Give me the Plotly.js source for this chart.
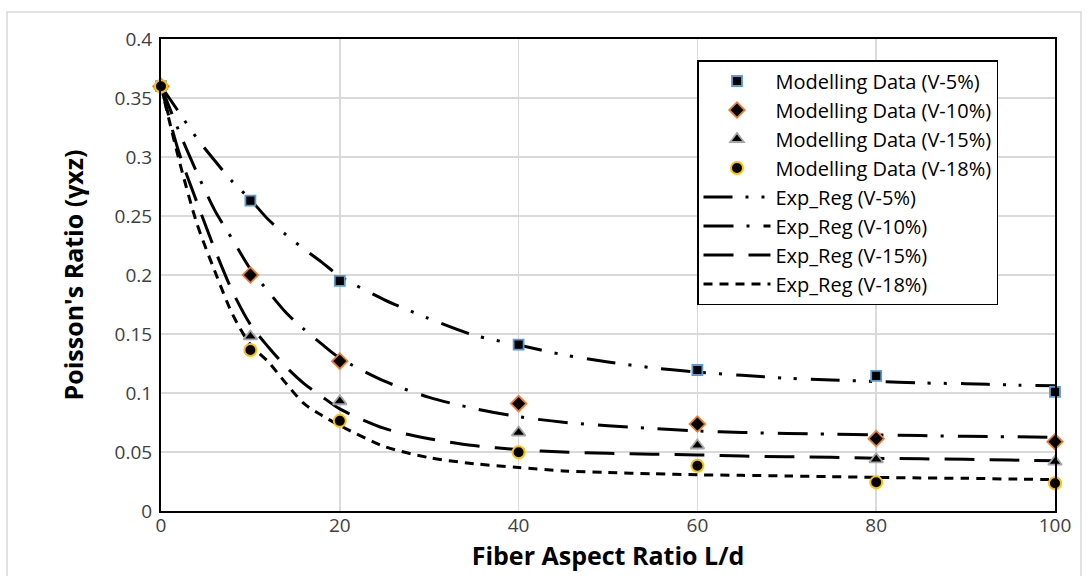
<!DOCTYPE html>
<html>
<head>
<meta charset="utf-8">
<script src="https://cdn.plot.ly/plotly-3.0.1.min.js"></script>
<style>
  html, body { margin: 0; padding: 0; background: #ffffff; }
  #chart { width: 1088px; height: 576px; }
</style>
</head>
<body>
<div id="chart"></div>
<script>
// ---- data ----
const aspectRatio = [0, 10, 20, 40, 60, 80, 100];
const model5  = [0.36, 0.263, 0.195, 0.141, 0.1195, 0.1145, 0.101];
const model10 = [0.36, 0.200, 0.127, 0.091, 0.0737, 0.0613, 0.0587];
const model15 = [0.36, 0.148, 0.093, 0.0665, 0.0555, 0.0438, 0.0418];
const model18 = [0.36, 0.1364, 0.0764, 0.0498, 0.0384, 0.0243, 0.0235];

const fitX   = [0, 2, 4, 6, 8, 10, 12, 14, 16, 18, 20, 25, 30, 35, 40, 45, 50, 55, 60, 65, 70, 75, 80, 85, 90, 95, 100];
const fit5   = [0.360, 0.338, 0.316, 0.297, 0.279, 0.264, 0.247, 0.234, 0.222, 0.2107, 0.199, 0.179, 0.163, 0.149, 0.1407, 0.1324, 0.1263, 0.1214, 0.1178, 0.115, 0.1125, 0.111, 0.1097, 0.1085, 0.1079, 0.1068, 0.1062];
const fit10  = [0.360, 0.322, 0.287, 0.255, 0.230, 0.205, 0.186, 0.168, 0.154, 0.1414, 0.1296, 0.110, 0.0963, 0.0869, 0.0799, 0.0752, 0.0722, 0.0699, 0.0679, 0.0666, 0.0657, 0.0651, 0.0644, 0.0639, 0.0633, 0.0629, 0.0625];
const fit15  = [0.360, 0.304, 0.262, 0.222, 0.186, 0.158, 0.139, 0.122, 0.108, 0.097, 0.0865, 0.070, 0.0613, 0.0555, 0.052, 0.050, 0.0489, 0.0481, 0.0475, 0.0466, 0.046, 0.0455, 0.0447, 0.0442, 0.0438, 0.0432, 0.0425];
const fit18  = [0.360, 0.298, 0.244, 0.2036, 0.1667, 0.141, 0.1264, 0.108, 0.091, 0.081, 0.0725, 0.0546, 0.0452, 0.0401, 0.0368, 0.034, 0.0326, 0.0316, 0.0307, 0.0302, 0.0297, 0.0291, 0.0285, 0.028, 0.0277, 0.0271, 0.0266];

const modelNames = ['Modelling Data (V-5%)', 'Modelling Data (V-10%)', 'Modelling Data (V-15%)', 'Modelling Data (V-18%)'];
const fitNames   = ['Exp_Reg (V-5%)', 'Exp_Reg (V-10%)', 'Exp_Reg (V-15%)', 'Exp_Reg (V-18%)'];
const xTickVals  = [0, 20, 40, 60, 80, 100];
const xTickText  = ['0', '20', '40', '60', '80', '100'];
const yTickVals  = [0, 0.05, 0.1, 0.15, 0.2, 0.25, 0.3, 0.35, 0.4];
const yTickText  = ['0', '0.05', '0.1', '0.15', '0.2', '0.25', '0.3', '0.35', '0.4'];

// ---- styles ----
const FONT = '"Open Sans", "Noto Sans", "Liberation Sans", sans-serif';
const markerStyles = [
  { symbol: 'square',      size: 10, color: '#000000', line: { color: '#5B9BD5', width: 1.8 } },
  { symbol: 'diamond',     size: 12, color: '#000000', line: { color: '#ED7D31', width: 1.8 } },
  { symbol: 'triangle-up', size: 12, color: '#000000', line: { color: '#A5A5A5', width: 1.8 } },
  { symbol: 'circle',      size: 12, color: '#000000', line: { color: '#FFC000', width: 2 } }
];
const dashStyles = [
  '29px,13px,3px,13px,3px,14px',
  '30px,13px,3px,14px',
  '30px,15px',
  '9px,7px'
];

const modelSeries = [model5, model10, model15, model18];
const fitSeries = [fit5, fit10, fit15, fit18];

const traces = [];
fitSeries.forEach((ys, i) => {
  traces.push({
    x: fitX, y: ys, type: 'scatter', mode: 'lines', name: fitNames[i],
    line: { color: '#000000', width: 3, dash: dashStyles[i], shape: 'spline', smoothing: 0.8 },
    legendrank: 10 + i
  });
});
modelSeries.forEach((ys, i) => {
  traces.push({
    x: aspectRatio, y: ys, type: 'scatter', mode: 'markers', name: modelNames[i],
    marker: markerStyles[i], legendrank: i + 1, cliponaxis: false
  });
});

const L = 161, R = 33, T = 39, B = 65;
const W = 1088, H = 576;
const pw = W - L - R, ph = H - T - B;
const px2x = p => (p - L) / pw;
const py2y = p => (H - B - p) / ph;

const layout = {
  width: W, height: H,
  margin: { l: L, r: R, t: T, b: B },
  paper_bgcolor: '#ffffff',
  plot_bgcolor: '#ffffff',
  font: { family: FONT, color: '#404040' },
  showlegend: true,
  legend: {
    x: px2x(697), y: py2y(60), xanchor: 'left', yanchor: 'top',
    bgcolor: '#ffffff', bordercolor: '#000000', borderwidth: 1.5,
    font: { family: FONT, size: 20, color: '#000000' },
    itemwidth: 67, tracegroupgap: 0, traceorder: 'normal'
  },
  xaxis: {
    range: [0, 100], tickvals: xTickVals, ticktext: xTickText,
    showgrid: true, gridcolor: '#D9D9D9', gridwidth: 1.5,
    showline: true, linecolor: '#000000', linewidth: 2, mirror: true,
    zeroline: false, ticks: '', ticklabelstandoff: -4,
    tickfont: { family: FONT, size: 19, color: '#404040' },
    title: { text: 'Fiber Aspect Ratio L/d', font: { family: FONT, size: 25, color: '#000000', weight: 'bold' }, standoff: 0 },
    automargin: false
  },
  yaxis: {
    range: [0, 0.4], tickvals: yTickVals, ticktext: yTickText,
    showgrid: true, gridcolor: '#D9D9D9', gridwidth: 1.5,
    showline: true, linecolor: '#000000', linewidth: 2, mirror: true,
    zeroline: false, ticks: '', ticklabelstandoff: 3,
    tickfont: { family: FONT, size: 19, color: '#404040' },
    title: { text: "Poisson's Ratio (γxz)", font: { family: FONT, size: 25, color: '#000000', weight: 'bold' }, standoff: 24 },
    automargin: false
  },
  shapes: [{
    type: 'rect', xref: 'paper', yref: 'paper', layer: 'below',
    x0: px2x(7), x1: px2x(1081), y0: py2y(590), y1: py2y(12),
    line: { color: '#D9D9D9', width: 1.5 }, fillcolor: 'rgba(0,0,0,0)'
  }]
};

Plotly.newPlot('chart', traces, layout, { displayModeBar: false, staticPlot: true });
</script>
</body>
</html>
